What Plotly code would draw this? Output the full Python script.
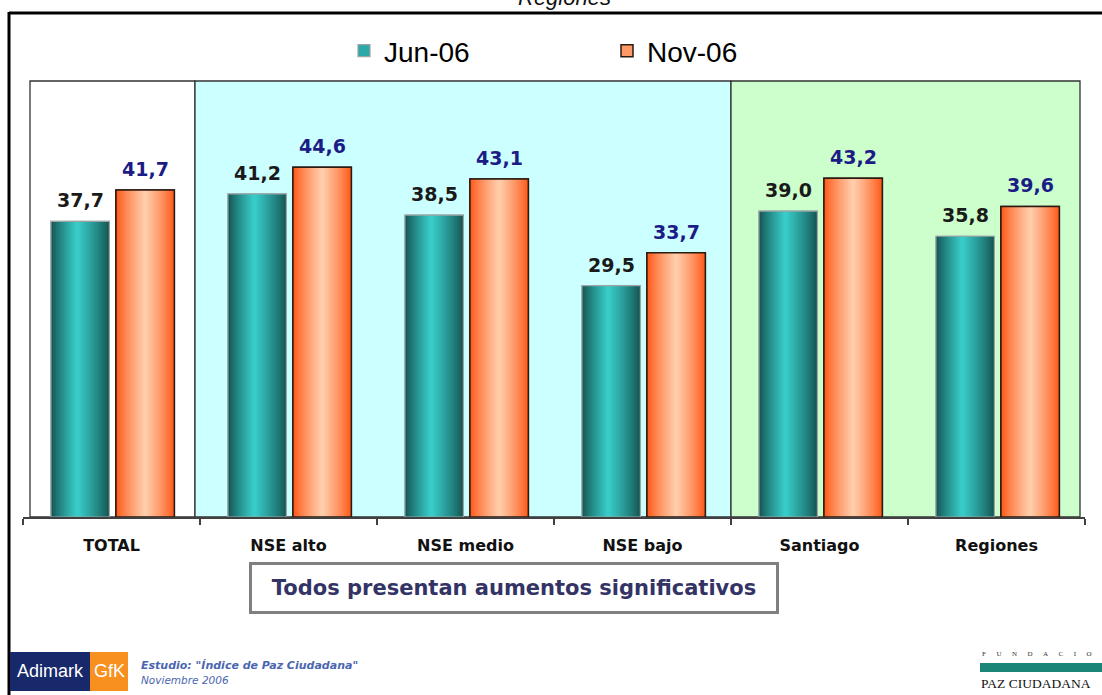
import plotly.graph_objects as go

# ---------------- data ----------------
categories = ["TOTAL", "NSE alto", "NSE medio", "NSE bajo", "Santiago", "Regiones"]
jun_06 = [37.7, 41.2, 38.5, 29.5, 39.0, 35.8]
nov_06 = [41.7, 44.6, 43.1, 33.7, 43.2, 39.6]
series_names = ["Jun-06", "Nov-06"]

# ---------------- layout geometry (pixels) ----------------
W_FIG, H_FIG = 1102, 695
L, R, T, B = 23, 17, 81, 178
PW = W_FIG - L - R
PH = H_FIG - T - B
CAT_PX = PW / len(categories)


def px_x(p):
    """screen pixel x -> paper x"""
    return (p - L) / PW


def px_y(p):
    """screen pixel y -> paper y"""
    return (H_FIG - B - p) / PH


def hex2rgb(h):
    h = h.lstrip("#")
    return tuple(int(h[i:i + 2], 16) for i in (0, 2, 4))


def mix(c1, c2, t):
    a, b = hex2rgb(c1), hex2rgb(c2)
    return "rgb(%d,%d,%d)" % tuple(round(a[i] + (b[i] - a[i]) * t) for i in range(3))


def fmt(v):
    return ("%.1f" % v).replace(".", ",")


BAR_W = 0.33
styles = [
    dict(name=series_names[0], values=jun_06, off=-0.342, dark="#155654", light="#3ad2ce",
         mid="#2aa9a6", h=0.45, line="#9aa6a6", lw=1.2, label="#1a1a1a"),
    dict(name=series_names[1], values=nov_06, off=0.025, dark="#ff5a1a", light="#ffd3b2",
         mid="#ff9a66", h=0.5, line="#2a1a10", lw=1.5, label="#1c1c86"),
]

fig = go.Figure()
N_STRIPES = 16
for st in styles:
    # legend / base trace
    fig.add_trace(go.Bar(
        x=categories, y=st["values"], name=st["name"], offset=st["off"], width=BAR_W,
        marker=dict(color=st["mid"], line=dict(color=st["line"], width=st["lw"])),
        hoverinfo="skip", showlegend=True,
    ))
    # gradient stripes
    for k in range(N_STRIPES):
        s = k / N_STRIPES
        fig.add_trace(go.Bar(
            x=categories, y=st["values"], offset=st["off"] + BAR_W * st["h"] * s,
            width=BAR_W * (1 - s),
            marker=dict(color=mix(st["dark"], st["light"], s ** 0.85), line=dict(width=0)),
            hoverinfo="skip", showlegend=False,
        ))
    # outline
    fig.add_trace(go.Bar(
        x=categories, y=st["values"], offset=st["off"], width=BAR_W,
        marker=dict(color="rgba(0,0,0,0)", line=dict(color=st["line"], width=st["lw"])),
        hoverinfo="skip", showlegend=False,
    ))

annotations = []
for st in styles:
    xs = (st["off"] + BAR_W / 2) * CAT_PX
    for c, v in zip(categories, st["values"]):
        annotations.append(dict(
            x=c, y=v, xref="x", yref="y", text="<b>%s</b>" % fmt(v), showarrow=False,
            xshift=xs, yshift=8, yanchor="bottom",
            font=dict(family="DejaVu Sans", size=19, color=st["label"]),
        ))

# boxed note
annotations.append(dict(
    x=px_x(514), y=px_y(588), xref="paper", yref="paper", showarrow=False,
    text="<b>Todos presentan aumentos significativos</b>",
    font=dict(family="DejaVu Sans", size=21, color="#333366"),
    bordercolor="#808080", borderwidth=3, borderpad=6, bgcolor="white",
    width=512, height=34, xanchor="center", yanchor="middle",
))
# cut-off title at the very top
annotations.append(dict(
    x=px_x(564), y=px_y(11), xref="paper", yref="paper", showarrow=False,
    text="<i>Regiones</i>", font=dict(family="Liberation Sans", size=22, color="#111111"),
    xanchor="center", yanchor="bottom", borderpad=0,
))
NB = "&nbsp;" * 6
# footer logos / text
annotations += [
    dict(x=px_x(50), y=px_y(671), xref="paper", yref="paper", showarrow=False,
         text="Adimark", font=dict(family="Liberation Sans", size=18, color="white"),
         xanchor="center", yanchor="middle"),
    dict(x=px_x(109), y=px_y(671), xref="paper", yref="paper", showarrow=False,
         text="GfK", font=dict(family="Liberation Sans", size=18, color="white"),
         xanchor="center", yanchor="middle"),
    dict(x=px_x(139), y=px_y(665), xref="paper", yref="paper", showarrow=False,
         text="<b><i>Estudio: \"Índice de Paz Ciudadana\"</i></b>",
         font=dict(family="DejaVu Sans", size=11, color="#4a66b0"),
         xanchor="left", yanchor="middle"),
    dict(x=px_x(139), y=px_y(680), xref="paper", yref="paper", showarrow=False,
         text="<i>Noviembre 2006</i>",
         font=dict(family="DejaVu Sans", size=10.5, color="#4a66b0"),
         xanchor="left", yanchor="middle"),
    dict(x=px_x(980), y=px_y(654), xref="paper", yref="paper", showarrow=False,
         text=NB.join("FUNDACIO"),
         font=dict(family="Liberation Serif", size=7, color="#333333"),
         xanchor="left", yanchor="middle"),
    dict(x=px_x(979), y=px_y(683), xref="paper", yref="paper", showarrow=False,
         text="PAZ CIUDADANA",
         font=dict(family="Liberation Serif", size=13.5, color="#111111"),
         xanchor="left", yanchor="middle"),
]

shapes = [
    # background panels
    dict(type="rect", xref="paper", yref="paper", x0=px_x(30), x1=px_x(195), y0=0, y1=1,
         fillcolor="white", line=dict(color="#333333", width=1.3), layer="below"),
    dict(type="rect", xref="paper", yref="paper", x0=px_x(195), x1=px_x(731), y0=0, y1=1,
         fillcolor="#ccffff", line=dict(color="#333333", width=1.3), layer="below"),
    dict(type="rect", xref="paper", yref="paper", x0=px_x(731), x1=px_x(1080), y0=0, y1=1,
         fillcolor="#ccffcc", line=dict(color="#333333", width=1.3), layer="below"),
    # outer frame
    dict(type="line", xref="paper", yref="paper", x0=px_x(9), x1=px_x(1110),
         y0=px_y(13), y1=px_y(13), line=dict(color="black", width=3)),
    dict(type="line", xref="paper", yref="paper", x0=px_x(9), x1=px_x(9),
         y0=px_y(12), y1=px_y(700), line=dict(color="black", width=3)),
    # Adimark GfK logo
    dict(type="rect", xref="paper", yref="paper", x0=px_x(10), x1=px_x(90),
         y0=px_y(691), y1=px_y(652), fillcolor="#17296b", line=dict(width=0)),
    dict(type="rect", xref="paper", yref="paper", x0=px_x(90), x1=px_x(128),
         y0=px_y(691), y1=px_y(652), fillcolor="#f7901e", line=dict(width=0)),
    # Fundacion bar
    dict(type="rect", xref="paper", yref="paper", x0=px_x(980), x1=px_x(1110),
         y0=px_y(672), y1=px_y(663), fillcolor="#1b8577", line=dict(width=0)),
]

fig.update_layout(
    width=W_FIG, height=H_FIG,
    margin=dict(l=L, r=R, t=T, b=B, pad=0),
    paper_bgcolor="white", plot_bgcolor="white",
    barmode="overlay",
    showlegend=True,
    legend=dict(orientation="h", x=px_x(344), y=px_y(51), xanchor="left", yanchor="middle",
                font=dict(family="Liberation Sans", size=28, color="black"),
                entrywidth=218, entrywidthmode="pixels", bgcolor="rgba(0,0,0,0)",
                itemclick=False, itemdoubleclick=False),
    xaxis=dict(type="category", range=[-0.5, len(categories) - 0.5], showgrid=False,
               showline=True, linecolor="#404040", linewidth=1.5,
               ticks="outside", ticklen=6, tickcolor="#404040", tickwidth=1.5,
               tickson="boundaries", ticklabelstandoff=13,
               tickfont=dict(family="DejaVu Sans", size=16, color="#111111", weight="bold"),
               fixedrange=True),
    yaxis=dict(range=[0, 55.6], visible=False, showgrid=False, fixedrange=True),
    shapes=shapes,
    annotations=annotations,
)

# remove the default 8px page margin so the figure fills the window exactly
fig.write_html("out.html", config={"displayModeBar": False},
               post_script="document.body.style.margin='0';document.body.style.overflow='hidden';")
